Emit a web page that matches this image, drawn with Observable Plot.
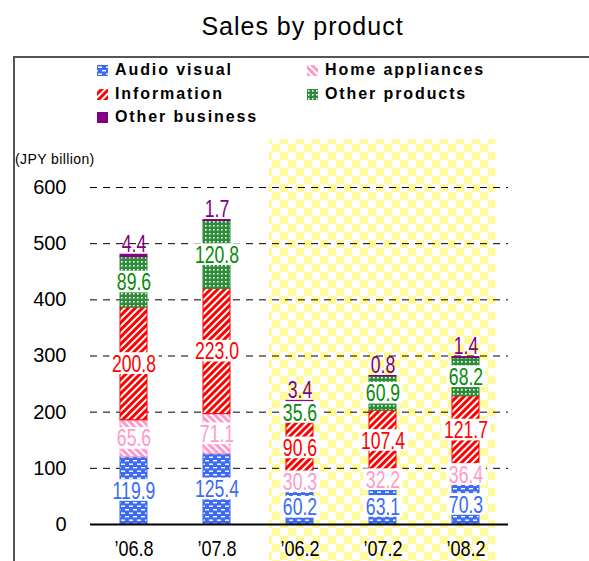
<!DOCTYPE html>
<html>
<head>
<meta charset="utf-8">
<script src="https://cdn.jsdelivr.net/npm/d3@7"></script>
<script src="https://cdn.jsdelivr.net/npm/@observablehq/plot@0.6"></script>
<style>
  html, body { margin: 0; padding: 0; background: #fff; }
  #chart { position: relative; width: 589px; height: 561px; overflow: hidden; font-family: "Liberation Sans", Arial, sans-serif; }
  #title { position: absolute; left: 0; width: 605px; top: 12px; text-align: center; font-size: 25px; letter-spacing: 1px; color: #000; }
  #box { position: absolute; left: 13px; top: 56px; right: -5px; bottom: -5px; border-top: 2px solid #555; border-left: 2px solid #555; }
  #plotwrap { position: absolute; left: 0; top: 0; }
  .leg { position: absolute; font-weight: bold; font-size: 16px; letter-spacing: 1.9px; color: #000; line-height: 18px; white-space: nowrap; }
  .leg svg { position: absolute; left: -18px; top: 4px; }
  #unit { position: absolute; left: 15px; top: 151px; font-size: 14px; letter-spacing: 0.4px; color: #000; }
</style>
</head>
<body>
<svg width="0" height="0" style="position:absolute">
  <defs>
    <pattern id="p-av" width="8" height="7" patternUnits="userSpaceOnUse">
      <rect width="8" height="7" fill="#3d6cf2"/>
      <rect x="1" y="1.5" width="4" height="1.4" fill="#fff"/>
      <rect x="5" y="5" width="4" height="1.4" fill="#fff"/>
      <rect x="-3" y="5" width="4" height="1.4" fill="#fff"/>
    </pattern>
    <pattern id="p-home" width="5" height="5" patternUnits="userSpaceOnUse" patternTransform="rotate(-45)">
      <rect width="5" height="5" fill="#ff99cc"/>
      <rect x="0" width="2" height="5" fill="#fff"/>
    </pattern>
    <pattern id="p-info" width="5" height="5" patternUnits="userSpaceOnUse" patternTransform="rotate(45)">
      <rect width="5" height="5" fill="#ff0000"/>
      <rect x="0" width="2" height="5" fill="#fff"/>
    </pattern>
    <pattern id="p-other" width="4" height="4" patternUnits="userSpaceOnUse">
      <rect width="4" height="4" fill="#2e8b3a"/>
      <rect x="1" y="1" width="1.6" height="1.6" fill="#fff"/>
    </pattern>
    <pattern id="p-check" width="16" height="16" patternUnits="userSpaceOnUse">
      <rect width="16" height="16" fill="#ffffff"/>
      <rect width="8" height="8" fill="#fffa9c"/>
      <rect x="8" y="8" width="8" height="8" fill="#fffa9c"/>
    </pattern>
  </defs>
</svg>
<div id="chart">
  <div id="title">Sales by product</div>
  <div id="box"></div>
  <div id="plotwrap"></div>
  <div id="unit">(JPY billion)</div>
</div>
<script>
// ---- data ----
const categories = ["’06.8", "’07.8", "’06.2", "’07.2", "’08.2"];
const highlighted = ["’06.2", "’07.2", "’08.2"];
const seriesNames = ["Audio visual", "Home appliances", "Information", "Other products", "Other business"];
const audioVisual   = [119.9, 125.4, 60.2, 63.1, 70.3];
const homeAppliances = [65.6, 71.1, 30.3, 32.2, 36.4];
const information   = [200.8, 223.0, 90.6, 107.4, 121.7];
const otherProducts = [89.6, 120.8, 35.6, 60.9, 68.2];
const otherBusiness = [4.4, 1.7, 3.4, 0.8, 1.4];
const yTicks = [0, 100, 200, 300, 400, 500, 600];

// ---- styles ----
const fills = ["url(#p-av)", "url(#p-home)", "url(#p-info)", "url(#p-other)", "#800080"];
const strokes = ["#3d6cf2", "#ff99cc", "#ff0000", "#2e8b3a", "#800080"];
const textColors = ["#3a6cf4", "#ff99cc", "#ff0000", "#0a8a0a", "#800080"];
const seriesValues = [audioVisual, homeAppliances, information, otherProducts, otherBusiness];

const rows = [];
categories.forEach((cat, i) => {
  let base = 0;
  seriesNames.forEach((s, j) => {
    const v = seriesValues[j][i];
    rows.push({cat, series: s, si: j, value: v, mid: base + v / 2, top: base + v});
    base += v;
  });
});
const segLabels = rows.filter(d => d.si < 4);
const topLabels = rows.filter(d => d.si === 4);

const labelFont = "'Liberation Sans', Arial, sans-serif";

function highlightMark(index, scales, values, dims) {
  const x = scales.x, y = scales.y;
  const step = x(categories[1]) - x(categories[0]);
  const bw = x.bandwidth ? x.bandwidth() : 0;
  const c1 = x(highlighted[0]) + bw / 2;
  const c2 = x(highlighted[highlighted.length - 1]) + bw / 2;
  const x1 = c1 - 0.37 * step, x2 = c2 + 0.36 * step;
  const top = y(685);
  const g = d3.create("svg:g");
  g.append("rect").attr("x", x1).attr("y", top).attr("width", x2 - x1)
    .attr("height", dims.height - top).attr("fill", "url(#p-check)");
  return g.node();
}

const chart = Plot.plot({
  width: 589,
  height: 561,
  marginLeft: 90,
  marginRight: 81,
  marginTop: 187,
  marginBottom: 37,
  style: {background: "transparent", overflow: "visible"},
  x: {domain: categories, paddingInner: 0.675, paddingOuter: 0.3375, axis: null},
  y: {domain: [0, 600], axis: null},
  color: {type: "ordinal", domain: seriesNames, range: fills},
  marks: [
    highlightMark,
    Plot.ruleY(yTicks.filter(t => t > 0), {stroke: "#000", strokeWidth: 1, strokeDasharray: "7,6"}),
    Plot.barY(rows, {x: "cat", y: "value", fill: "series", stroke: d => strokes[d.si], strokeWidth: 1, inset: 0}),
    Plot.ruleY([0], {stroke: "#000", strokeWidth: 2}),
    Plot.axisY(yTicks, {tickSize: 0, tickPadding: 24, fontSize: 20, fill: "#000", label: null, fontFamily: labelFont}),
    Plot.axisX({tickSize: 0, tickPadding: 16, fontSize: 21, fill: "#000", label: null, fontFamily: labelFont, className: "xlab"}),
    Plot.text(segLabels, {x: "cat", y: "mid", text: d => d.value.toFixed(1), fill: d => textColors[d.si], fontSize: 21, fontFamily: labelFont, className: "seglabel"}),
    Plot.text(topLabels, {x: "cat", y: "top", text: d => d.value.toFixed(1), fill: d => textColors[d.si], fontSize: 21, fontFamily: labelFont, lineAnchor: "bottom", dy: -3, className: "toplabel"})
  ]
});
document.getElementById("plotwrap").appendChild(chart);

// condensed, tall glyphs like the reference (scale appended to each label's own translate)
function condense(sel, sx, sy) {
  d3.select(chart).selectAll(sel).each(function () {
    const t = this.getAttribute("transform") || "";
    this.setAttribute("transform", t + ` scale(${sx},${sy})`);
  });
}
condense("g.seglabel text", 0.84, 1.15);
condense("g.toplabel text", 0.84, 1.15);
condense("g.xlab text", 0.86, 1.06);

// white boxes behind segment labels
d3.select(chart).selectAll("g.seglabel text").each(function () {
  const bb = this.getBBox();
  const r = document.createElementNS("http://www.w3.org/2000/svg", "rect");
  r.setAttribute("x", bb.x - 3);
  r.setAttribute("y", bb.y + 2);
  r.setAttribute("width", bb.width + 6);
  r.setAttribute("height", bb.height - 4);
  r.setAttribute("fill", "#fff");
  const t = this.getAttribute("transform");
  if (t) r.setAttribute("transform", t);
  this.parentNode.insertBefore(r, this);
});

// legend
const legendPos = [[115, 61], [325, 61], [115, 85], [325, 85], [115, 108]];
const chartDiv = document.getElementById("chart");
seriesNames.forEach((s, j) => {
  const d = document.createElement("div");
  d.className = "leg";
  d.style.left = legendPos[j][0] + "px";
  d.style.top = legendPos[j][1] + "px";
  d.innerHTML = `<svg width="11" height="11"><rect width="11" height="11" fill="${fills[j]}"/></svg>${s}`;
  chartDiv.appendChild(d);
});
</script>
</body>
</html>
